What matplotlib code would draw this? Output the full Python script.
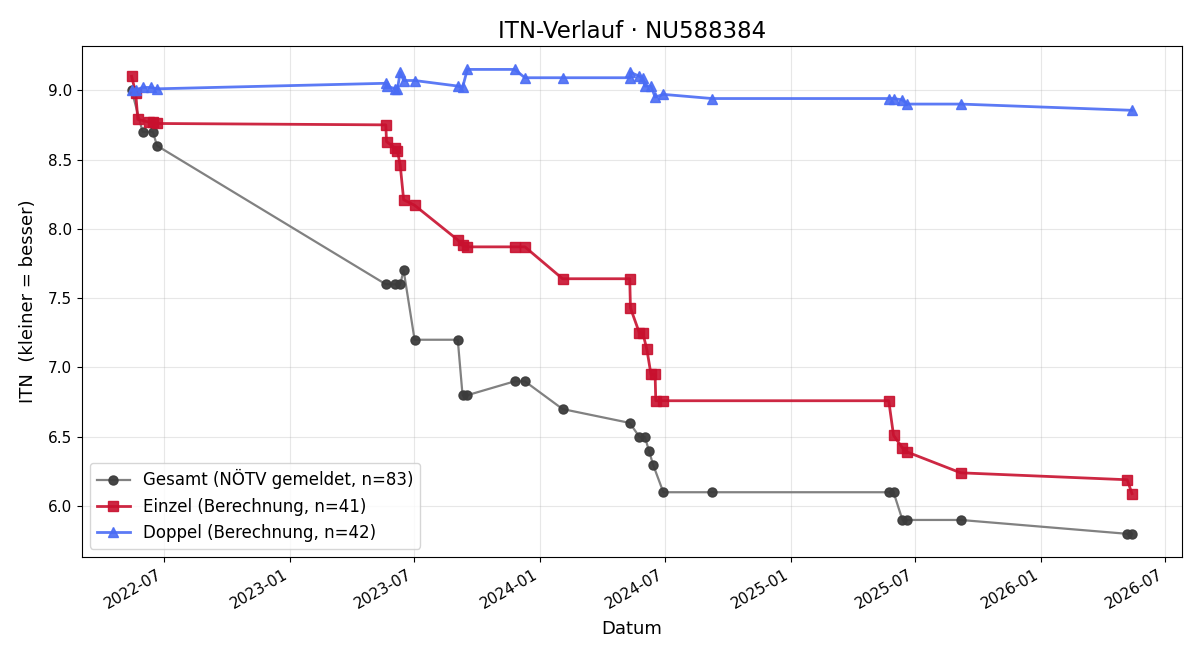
import matplotlib
matplotlib.use("Agg")
import matplotlib.pyplot as plt
import matplotlib.dates as mdates
import pandas as pd

# Gesamt (NÖTV gemeldet)
gesamt_dates = [
    "2022-05-15", "2022-05-31", "2022-06-15", "2022-06-21",
    "2023-05-21", "2023-06-04", "2023-06-11", "2023-06-16", "2023-07-02",
    "2023-09-03", "2023-09-10", "2023-09-17", "2023-11-25", "2023-12-10",
    "2024-02-03", "2024-05-11", "2024-05-25", "2024-06-02", "2024-06-08",
    "2024-06-14", "2024-06-29", "2024-09-08",
    "2025-05-24", "2025-05-31", "2025-06-13", "2025-06-20", "2025-09-06",
    "2026-05-07", "2026-05-14",
]
gesamt_vals = [
    9.0, 8.7, 8.7, 8.6,
    7.6, 7.6, 7.6, 7.7, 7.2,
    7.2, 6.8, 6.8, 6.9, 6.9,
    6.7, 6.6, 6.5, 6.5, 6.4,
    6.3, 6.1, 6.1,
    6.1, 6.1, 5.9, 5.9, 5.9,
    5.8, 5.8,
]

# Einzel (Berechnung)
einzel_dates = [
    "2022-05-15", "2022-05-21", "2022-05-24", "2022-06-09", "2022-06-15", "2022-06-21",
    "2023-05-21", "2023-05-22", "2023-06-04", "2023-06-07", "2023-06-11", "2023-06-16",
    "2023-07-02", "2023-09-03", "2023-09-10", "2023-09-17", "2023-11-25", "2023-12-10",
    "2024-02-03", "2024-05-11", "2024-05-12", "2024-05-25", "2024-05-30", "2024-06-05",
    "2024-06-11", "2024-06-17", "2024-06-18", "2024-06-29",
    "2025-05-24", "2025-05-31", "2025-06-13", "2025-06-20", "2025-09-06",
    "2026-05-07", "2026-05-14",
]
einzel_vals = [
    9.10, 8.98, 8.79, 8.77, 8.77, 8.76,
    8.75, 8.63, 8.58, 8.56, 8.46, 8.21,
    8.17, 7.92, 7.88, 7.87, 7.87, 7.87,
    7.64, 7.64, 7.43, 7.25, 7.25, 7.13,
    6.95, 6.95, 6.76, 6.76,
    6.76, 6.51, 6.42, 6.39, 6.24,
    6.19, 6.09,
]

# Doppel (Berechnung)
doppel_dates = [
    "2022-05-15", "2022-05-21", "2022-05-31", "2022-06-12", "2022-06-21",
    "2023-05-21", "2023-05-22", "2023-06-04", "2023-06-07", "2023-06-11", "2023-06-16",
    "2023-07-02", "2023-09-03", "2023-09-10", "2023-09-17", "2023-11-25", "2023-12-10",
    "2024-02-03", "2024-05-11", "2024-05-12", "2024-05-25", "2024-05-30", "2024-06-02",
    "2024-06-11", "2024-06-17", "2024-06-29", "2024-09-08",
    "2025-05-24", "2025-05-31", "2025-06-13", "2025-06-20", "2025-09-06",
    "2026-05-14",
]
doppel_vals = [
    9.00, 9.00, 9.02, 9.02, 9.01,
    9.05, 9.03, 9.01, 9.01, 9.13, 9.07,
    9.07, 9.03, 9.02, 9.15, 9.15, 9.09,
    9.09, 9.09, 9.13, 9.10, 9.09, 9.03,
    9.03, 8.95, 8.97, 8.94,
    8.94, 8.94, 8.93, 8.90, 8.90,
    8.855,
]

fig, ax = plt.subplots(figsize=(12, 6.6), dpi=100)

ax.plot(pd.to_datetime(gesamt_dates), gesamt_vals, "-o", color="#7a7a7a",
        markerfacecolor="#3c3c3c", markeredgecolor="#3c3c3c", markersize=6.5,
        linewidth=1.6, alpha=0.95, label="Gesamt (NÖTV gemeldet, n=83)")
ax.plot(pd.to_datetime(einzel_dates), einzel_vals, "-s", color="#c8102e",
        markersize=7, linewidth=2, alpha=0.9, label="Einzel (Berechnung, n=41)")
ax.plot(pd.to_datetime(doppel_dates), doppel_vals, "-^", color="#4a6cf4",
        markersize=7, linewidth=2, alpha=0.9, label="Doppel (Berechnung, n=42)")

ax.set_title("ITN-Verlauf · NU588384", fontsize=16.5)
ax.set_xlabel("Datum", fontsize=13, labelpad=6)
ax.set_ylabel("ITN  (kleiner = besser)", fontsize=13, labelpad=8)
ax.xaxis.set_major_locator(mdates.MonthLocator(bymonth=[1, 7]))
ax.xaxis.set_major_formatter(mdates.DateFormatter("%Y-%m"))
ax.tick_params(labelsize=11)
ax.grid(True, alpha=0.3)
ax.legend(loc="lower left", fontsize=12)
fig.autofmt_xdate()

fig.subplots_adjust(left=0.068, right=0.985, top=0.930, bottom=0.156)
fig.savefig("out.png")
plt.close(fig)
